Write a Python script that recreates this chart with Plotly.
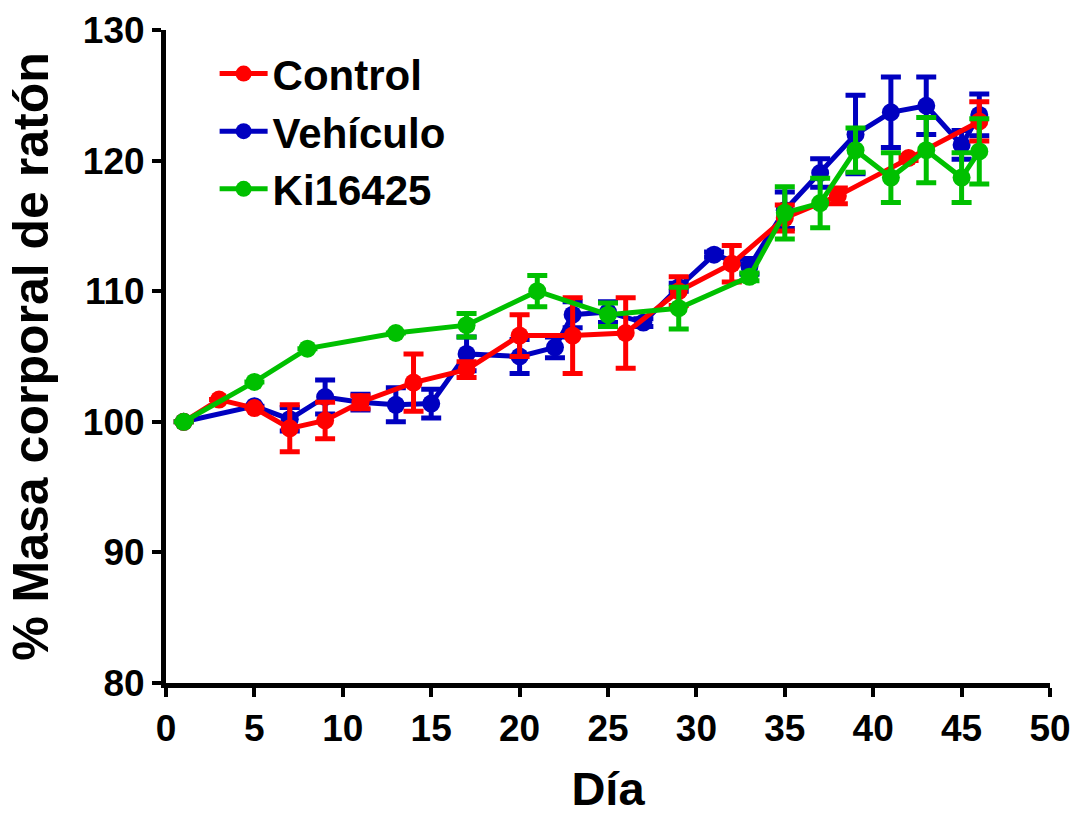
import plotly.graph_objects as go

# Body mass (% of day-1 value) per group, mean ± SEM
days_ctrl = [1, 3, 5, 7, 9, 11, 14, 17, 20, 23, 26, 29, 32, 35, 38, 42, 46]
mass_ctrl = [100, 101.7, 101.05, 99.5, 100.1, 101.5, 103.0, 104.0, 106.6, 106.6,
             106.8, 110.0, 112.1, 115.6, 117.3, 120.2, 123.0]
sem_ctrl = [0, 0, 0, 1.8, 1.4, 0.5, 2.2, 0.6, 1.6, 2.9, 2.7, 1.1, 1.4, 1.0, 0.6, 0.2, 1.5]

days_veh = [1, 5, 7, 9, 11, 13, 15, 17, 20, 22, 23, 25, 27, 29, 31, 33, 35, 37, 39,
            41, 43, 45, 46]
mass_veh = [100, 101.2, 100.2, 101.9, 101.5, 101.3, 101.4, 105.2, 105.0, 105.7, 108.2,
            108.4, 107.6, 110.3, 112.8, 111.9, 116.2, 119.05, 122.0, 123.7, 124.2,
            121.2, 123.5]
sem_veh = [0, 0, 0.9, 1.3, 0.6, 1.3, 1.1, 1.3, 1.3, 0.8, 1.0, 0.8, 0.3, 0.3, 0.2, 0.6,
           1.4, 1.1, 3.0, 2.7, 2.2, 1.1, 1.6]

days_ki = [1, 5, 8, 13, 17, 21, 25, 29, 33, 35, 37, 39, 41, 43, 45, 46]
mass_ki = [100, 103.05, 105.6, 106.8, 107.4, 110.0, 108.2, 108.7, 111.1, 116.0, 116.75,
           120.8, 118.7, 120.8, 118.7, 120.7]
sem_ki = [0, 0, 0, 0, 0.9, 1.2, 0.9, 1.6, 0.3, 2.0, 1.9, 1.7, 1.9, 2.5, 1.9, 2.5]

x_ticks = [0, 5, 10, 15, 20, 25, 30, 35, 40, 45, 50]
y_ticks = [80, 90, 100, 110, 120, 130]

FONT = "Liberation Sans, Arial, sans-serif"

series = [
    # drawn bottom to top: Vehículo, Control, Ki16425
    ("Vehículo", days_veh, mass_veh, sem_veh, "#0000C0", 2),
    ("Control", days_ctrl, mass_ctrl, sem_ctrl, "#FF0000", 1),
    ("Ki16425", days_ki, mass_ki, sem_ki, "#00C000", 3),
]

fig = go.Figure()
for name, xs, ys, errs, color, rank in series:
    fig.add_trace(go.Scatter(
        x=xs, y=ys, name=name, mode="lines+markers",
        line=dict(color=color, width=5),
        marker=dict(color=color, size=18),
        error_y=dict(type="data", array=errs, visible=True, color=color,
                     thickness=5, width=10),
        legendrank=rank,
    ))

axis_common = dict(
    showline=True, linecolor="black", linewidth=5,
    ticks="outside", ticklen=9, tickwidth=4, tickcolor="black",
    showgrid=False, zeroline=False, automargin=False,
    tickfont=dict(family=FONT, size=37, color="black", weight="bold"),
)

fig.update_layout(
    width=1077, height=815,
    margin=dict(l=166, r=27, t=30, b=132),
    paper_bgcolor="white", plot_bgcolor="white",
    font=dict(family=FONT, color="black"),
    xaxis=dict(range=[0, 50], tickvals=x_ticks, **axis_common,
               title=dict(text="<b>Día</b>", font=dict(family=FONT, size=47), standoff=30)),
    yaxis=dict(range=[80, 130], tickvals=y_ticks, **axis_common,
               title=dict(text="<b>% Masa corporal de ratón</b>", font=dict(family=FONT, size=50),
                          standoff=20)),
    legend=dict(x=0.055, y=0.985, xanchor="left", yanchor="top",
                font=dict(family=FONT, size=42, color="black", weight="bold"),
                bgcolor="rgba(0,0,0,0)", tracegroupgap=0, itemwidth=48),
    showlegend=True,
)

fig.write_html("out.html")
